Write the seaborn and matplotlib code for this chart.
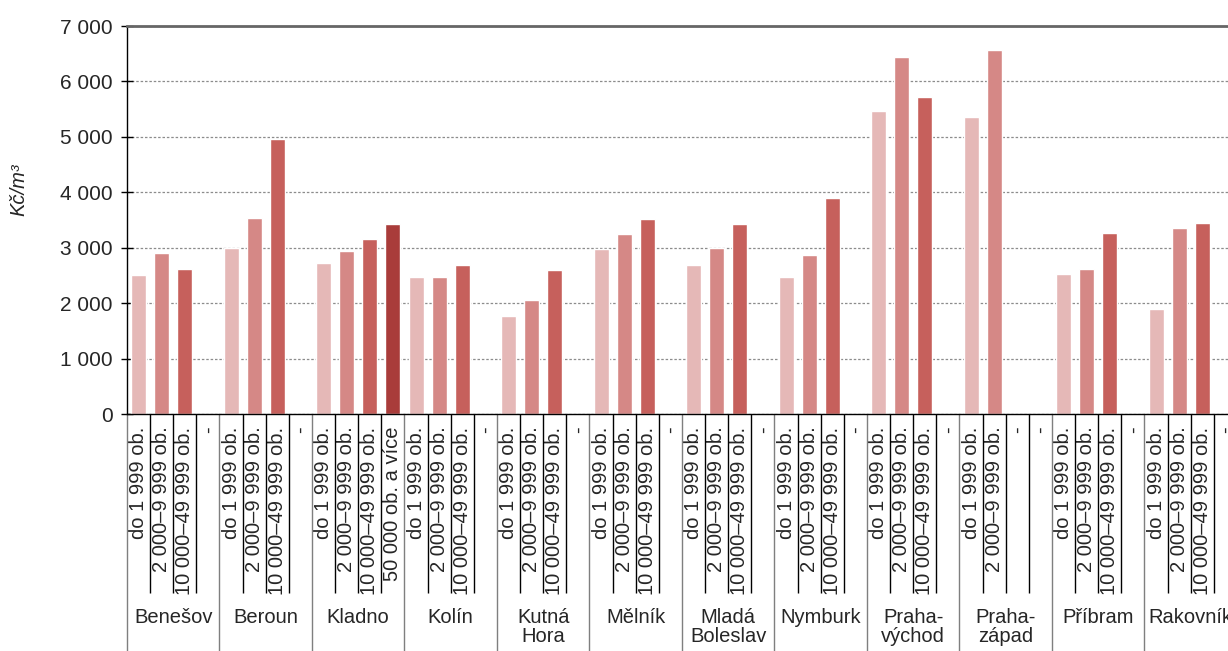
import numpy as np
import pandas as pd
import matplotlib
matplotlib.use("Agg")
import matplotlib.pyplot as plt
import seaborn as sns

# data
districts = ["Benešov", "Beroun", "Kladno", "Kolín", "Kutná\nHora", "Mělník",
             "Mladá\nBoleslav", "Nymburk", "Praha-\nvýchod", "Praha-\nzápad",
             "Příbram", "Rakovník"]
categories = ["do 1 999 ob.", "2 000–9 999 ob.", "10 000–49 999 ob.", "50 000 ob. a více"]
val_small = [2500, 2990, 2720, 2470, 1770, 2970, 2680, 2470, 5470, 5360, 2530, 1890]
val_mid = [2900, 3530, 2940, 2470, 2050, 3240, 2990, 2860, 6440, 6570, 2620, 3360]
val_large = [2610, 4955, 3150, 2680, 2590, 3510, 3420, 3890, 5720, None, 3260, 3440]
val_city = [None, None, 3420, None, None, None, None, None, None, None, None, None]
colors = ["#E5B8B7", "#D58886", "#C6605C", "#A93C3A"]

series = [val_small, val_mid, val_large, val_city]
rows = []
for d, name in enumerate(districts):
    for c, cat in enumerate(categories):
        v = series[c][d]
        rows.append({"pos": 4 * d + c, "district": name, "cat": cat,
                     "value": np.nan if v is None else v})
df = pd.DataFrame(rows)
n_slots = len(df)
tick_labels = [r.cat if not np.isnan(r.value) else "-" for r in df.itertuples()]

sns.set_style("white")
plt.rcParams["font.family"] = ["Liberation Sans", "DejaVu Sans"]

fig = plt.figure(figsize=(12.28, 6.51), dpi=100)
ax = fig.add_axes([127 / 1228, 1 - 414 / 651, 1110 / 1228, 388 / 651])

sns.barplot(data=df.dropna(), x="pos", y="value", hue="cat", order=list(range(n_slots)),
            hue_order=categories, palette=dict(zip(categories, colors)),
            dodge=False, width=0.65, saturation=1, legend=False, ax=ax)

ax.set_xlim(-0.5, n_slots - 0.5)
ax.set_ylim(0, 7000)
ax.set_yticks(range(0, 7001, 1000))
ax.set_yticklabels([f"{v:,}".replace(",", " ") for v in range(0, 7001, 1000)])
ax.tick_params(axis="y", direction="inout", length=8.5, width=1, color="black",
               pad=6, labelsize=15, left=True)

ax.set_axisbelow(True)
ax.yaxis.grid(True, color="#8c8c8c", linestyle=(0, (2, 1.5)), linewidth=0.9)
ax.xaxis.grid(False)

for side in ["left", "bottom"]:
    ax.spines[side].set_color("black")
    ax.spines[side].set_linewidth(1)
ax.spines["top"].set_color("#666666")
ax.spines["top"].set_linewidth(2)
ax.spines["right"].set_visible(False)

# category labels
ax.set_xticks(range(n_slots))
ax.set_xticklabels(tick_labels, rotation=90, fontsize=14.5)
ax.tick_params(axis="x", which="major", length=0, pad=9)
inner = [i - 0.5 for i in range(n_slots + 1) if i % 4 != 0]
ax.set_xticks(inner, minor=True)
ax.tick_params(axis="x", which="minor", length=129, width=1, color="black",
               direction="out", bottom=True)

# district boundaries and names
trans = ax.get_xaxis_transform()
for d in range(len(districts) + 1):
    x = 4 * d - 0.5
    ax.plot([x, x], [0, -0.65], transform=trans, clip_on=False,
            color="#7f7f7f", lw=1)
for d, name in enumerate(districts):
    ax.text(4 * d + 1.5, -0.50, name, transform=trans, ha="center", va="top",
            fontsize=14.5, linespacing=1.0)

ax.set_xlabel("")
ax.set_ylabel("Kč/m³", fontsize=14.5, style="italic")
ax.yaxis.set_label_coords(-0.089, 0.577)

fig.savefig("out.png", dpi=100)
